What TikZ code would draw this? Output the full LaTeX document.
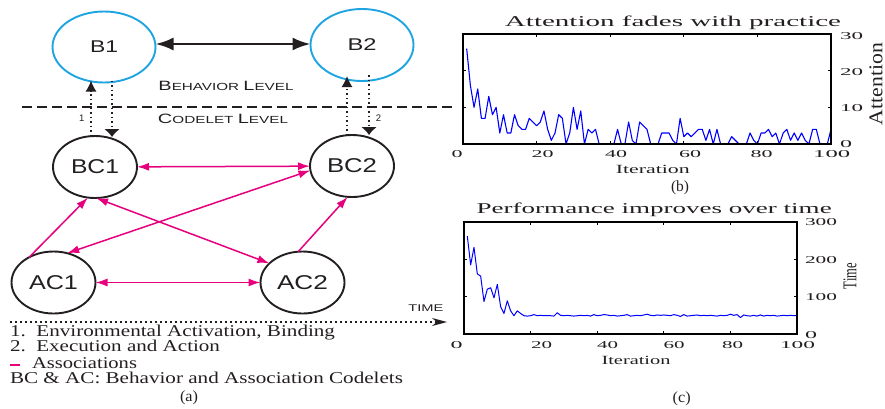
\documentclass[tikz,border=0pt]{standalone}
\usepackage{graphicx}
\usepackage{fontspec}
\newfontfamily\lsans{Liberation Sans}
\newfontfamily\lserif{Liberation Serif}
\usetikzlibrary{arrows.meta,shapes.geometric}
\definecolor{bcyan}{RGB}{30,165,225}
\definecolor{assoc}{RGB}{230,0,126}
\definecolor{ink}{RGB}{35,31,32}
\definecolor{plotblue}{RGB}{0,0,255}
% stretch a text horizontally to a given width, keeping its height
\newcommand{\fitw}[2]{\resizebox{#1}{\height}{#2}}
\newcommand{\fs}[1]{\fontsize{#1}{#1}\selectfont}

\begin{document}
\begin{tikzpicture}[x=1pt,y=-1pt,
  every node/.style={inner sep=0pt,outer sep=0pt,text=ink},
  >={Latex[length=12pt,width=8pt]},
  behav/.style={ellipse,draw=bcyan,line width=1.9pt,minimum width=103pt,minimum height=71pt,font=\lsans\fs{17}},
  codel/.style={ellipse,draw=ink,line width=1.9pt,minimum width=84pt,minimum height=62pt,font=\lsans\fs{20}},
  assocarrow/.style={draw=assoc,line width=1.5pt},
  dotarrow/.style={draw=ink,line width=1.5pt,dash pattern=on 1.5pt off 3pt},
  levelname/.style={anchor=base,font=\lsans\fs{13.5}},
  legend/.style={anchor=base west,font=\lserif\fs{16.5}},
  caption/.style={font=\lserif\fs{15.5}},
  ticklabel/.style={font=\lserif\fs{10.5}},
  plottitle/.style={anchor=base,font=\lserif\fs{15}},
  axisname/.style={font=\lserif\fs{12.5}},
  axisbox/.style={draw=black,line width=1.3pt},
  tick/.style={draw=black,line width=0.8pt},
  dataline/.style={draw=plotblue,line width=1.1pt,line join=round}
]
\useasboundingbox (0,0) rectangle (885,408);

% ---------------- (a) behaviour / codelet diagram ----------------
\node[behav] (B1) at (104,47) {\fitw{28pt}{B1}};
\node[behav,minimum height=72pt] (B2) at (362,45) {\fitw{29pt}{B2}};
\node[codel] (BC1) at (95,167) {\fitw{48pt}{BC1}};
\node[codel] (BC2) at (352,166) {\fitw{50pt}{BC2}};
\node[codel] (AC1) at (53.5,282.5) {\fitw{49pt}{AC1}};
\node[codel] (AC2) at (302.5,282.5) {\fitw{51pt}{AC2}};

% link between the two behaviours
\coordinate (blink) at (0,44);
\draw[draw=ink,line width=2.4pt,arrows={Latex[length=18pt,width=13pt]-Latex[length=18pt,width=13pt]}]
  (B1.east |- blink) -- (B2.west |- blink);

% level separator
\coordinate (lvA) at (22,107);
\coordinate (lvB) at (456,107);
\draw[draw=ink,line width=1.8pt,dash pattern=on 10pt off 5pt] (lvA) -- (lvB);
\node[levelname] (behlvl) at (226,90.7) {\fitw{135pt}{B\fs{10.3}EHAVIOR \fs{13.5}L\fs{10.3}EVEL}};
\node[levelname] (codlvl) at (223,123.3) {\fitw{130pt}{C\fs{10.3}ODELET \fs{13.5}L\fs{10.3}EVEL}};

% activation (up) and execution (down) between levels
\coordinate (xa) at (91,0);
\coordinate (xb) at (112,0);
\coordinate (xc) at (347,0);
\coordinate (xd) at (369,0);
\draw[dotarrow,-{Latex[length=11pt,width=11pt]},shorten >=-2pt] (BC1.north -| xa) -- (B1.south -| xa);
\draw[dotarrow,-{Latex[length=8pt,width=16pt]},shorten <=-2pt,shorten >=-1pt] (B1.south -| xb) -- (BC1.north -| xb);
\draw[dotarrow,-{Latex[length=11pt,width=11pt]},shorten >=-5pt] (BC2.north -| xc) -- (B2.south -| xc);
\draw[dotarrow,-{Latex[length=8pt,width=16pt]},shorten <=-6pt] (B2.south -| xd) -- (BC2.north -| xd);
\node[font=\lsans\fs{9.5}] (one) at (81.7,118.3) {1};
\node[font=\lsans\fs{9.5}] (two) at (378.5,118.3) {2};

% associations
\draw[assocarrow,<->] (BC1) -- (BC2);
\draw[assocarrow,<->] (AC1) -- (AC2);
\draw[assocarrow,->] (AC1.134) -- (BC1.-103);
\draw[assocarrow,<->] (AC1.65) -- (BC2.186);
\draw[assocarrow,<->] (BC1.-88) -- (AC2.150);
\draw[assocarrow,->] (AC2.98) -- (BC2.-98);

% time axis
\coordinate (t0) at (10,322);
\coordinate (t1) at (447,322);
\draw[dotarrow,dash pattern=on 1.5pt off 3.5pt,-{Stealth[length=15pt,width=8pt]}] (t0) -- (t1);
\node[font=\lsans\fs{9.7}] (timelbl) at (425.8,308.3) {\fitw{35pt}{TIME}};

% legend
\node[legend] (leg1) at (10,336.7) {\fitw{325pt}{1.\ \ Environmental Activation, Binding}};
\node[legend] (leg2) at (10,351.7) {\fitw{210pt}{2.\ \ Execution and Action}};
\coordinate (dashA) at (10,365);
\coordinate (dashB) at (20,365);
\draw[draw=assoc,line width=2pt] (dashA) -- (dashB);
\node[legend] (leg3) at (32,368.3) {\fitw{105pt}{Associations}};
\node[legend] (leg4) at (10,383.3) {\fitw{393pt}{BC \& AC: Behavior and Association Codelets}};
\node[caption] (capa) at (189,397.5) {\fitw{18pt}{(a)}};

% ---------------- (b) attention plot ----------------
\node[plottitle] (titleb) at (673,26.7) {\fitw{336pt}{Attention fades with practice}};
\begin{scope}[shift={(463,144)},x=3.68pt,y=3.6667pt]
  \draw[dataline] (1,26) \foreach \v [count=\i from 2] in {16,10,15,7,7,13,8,10,3,%
8,3,3,8,5,4,4,7,6,5,%
6,9,4,1,3,8,7,0,3,10,%
4,9,0,4,3,4,0,0,0,0,%
0,4,0,0,6,1,0,6,5,4,%
0,0,0,3,3,3,1,0,7,2,%
3,2,3,4,4,1,4,0,4,0,%
0,0,2,1,0,0,0,3,1,0,%
3,3,4,2,3,0,3,4,1,3,%
1,3,1,0,4,4,0,0,0,4} { -- (\i,\v) };
  \foreach \t in {20,40,60,80} {
    \draw[tick] (\t,0) -- ++(0,0.82);
    \draw[tick] (\t,30) -- ++(0,-0.82);
  }
  \foreach \t in {10,20} {
    \draw[tick] (0,\t) -- ++(0.82,0);
    \draw[tick] (100,\t) -- ++(-0.82,0);
  }
  \draw[axisbox] (0,0) rectangle (100,30);
\end{scope}
\node[ticklabel] (bx0) at (457,154.2) {\fitw{11pt}{0}};
\node[ticklabel] (bx20) at (542.5,154.2) {\fitw{22pt}{20}};
\node[ticklabel] (bx40) at (616,154.2) {\fitw{22pt}{40}};
\node[ticklabel] (bx60) at (690,154.2) {\fitw{22pt}{60}};
\node[ticklabel] (bx80) at (761.7,154.2) {\fitw{22pt}{80}};
\node[ticklabel] (bx100) at (831.7,154.2) {\fitw{37pt}{100}};
\node[ticklabel,anchor=west] (by30) at (840,35.8) {\fitw{23pt}{30}};
\node[ticklabel,anchor=west] (by20) at (840,71.7) {\fitw{23pt}{20}};
\node[ticklabel,anchor=west] (by10) at (840,108.3) {\fitw{23pt}{10}};
\node[ticklabel,anchor=west] (by0) at (840,144) {\fitw{12pt}{0}};
\node[axisname] (iterb) at (652.8,169.8) {\fitw{74pt}{Iteration}};
\node[rotate=90,font=\lserif\fs{19.5}] (attl) at (876,84) {\fitw{82pt}{Attention}};
\node[caption] (capb) at (680,187.5) {\fitw{18pt}{(b)}};

% ---------------- (c) performance plot ----------------
\node[plottitle] (titlec) at (654.2,213) {\fitw{355pt}{Performance improves over time}};
\begin{scope}[shift={(464,334)},x=3.33pt,y=0.37333pt]
  \draw[dataline,line width=1pt] (1,262) \foreach \v [count=\i from 2] in {185,232,161,155,87,120,124,97,133,%
73,55,89,62,49,62,55,49,48,49,%
52,49,50,49,49,49,48,57,50,49,%
50,49,48,49,50,49,50,48,52,49,%
50,52,51,49,50,48,49,50,52,48,%
49,50,49,51,53,50,49,51,50,51,%
50,49,52,50,47,52,48,49,50,51,%
49,50,49,50,49,48,50,49,50,53,%
50,52,44,51,49,48,50,48,51,48,%
50,49,50,48,49,50,49,50,49,50} { -- (\i,\v) };
  \foreach \t in {20,40,60,80} {
    \draw[tick] (\t,0) -- ++(0,8);
    \draw[tick] (\t,300) -- ++(0,-8);
  }
  \foreach \t in {100,200} {
    \draw[tick] (0,\t) -- ++(0.9,0);
    \draw[tick] (100,\t) -- ++(-0.9,0);
  }
  \draw[axisbox] (0,0) rectangle (100,300);
\end{scope}
\node[ticklabel] (cx0) at (456.7,345.5) {\fitw{12pt}{0}};
\node[ticklabel] (cx20) at (541.7,345.5) {\fitw{21pt}{20}};
\node[ticklabel] (cx40) at (607.5,345.5) {\fitw{21pt}{40}};
\node[ticklabel] (cx60) at (674,345.5) {\fitw{21pt}{60}};
\node[ticklabel] (cx80) at (732.5,345.5) {\fitw{21pt}{80}};
\node[ticklabel] (cx100) at (797.5,345.5) {\fitw{35pt}{100}};
\node[ticklabel,anchor=west] (cy300) at (805,221.7) {\fitw{32pt}{300}};
\node[ticklabel,anchor=west] (cy200) at (805,260) {\fitw{32pt}{200}};
\node[ticklabel,anchor=west] (cy100) at (805,296.7) {\fitw{32pt}{100}};
\node[ticklabel,anchor=west] (cy0) at (805,335) {\fitw{12pt}{0}};
\node[axisname] (iterc) at (636,360) {\fitw{69pt}{Iteration}};
\node[rotate=90,font=\lserif\fs{19.5}] (timey) at (850,276) {\fitw{26pt}{Time}};
\node[caption] (capc) at (681.7,399) {\fitw{18pt}{(c)}};
\end{tikzpicture}
\end{document}
